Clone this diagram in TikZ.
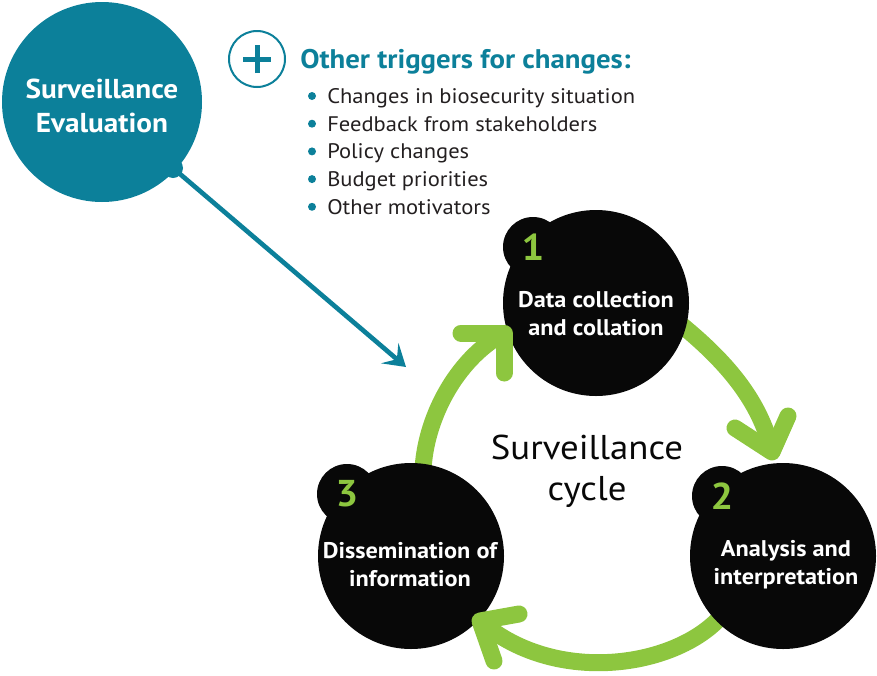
\documentclass[tikz,border=0pt]{standalone}
\usepackage{fontspec}
\setmainfont{PT Sans}[FakeStretch=1.07]
\usetikzlibrary{arrows.meta,calc}
\definecolor{svteal}{RGB}{12,128,154}
\definecolor{svgreen}{RGB}{141,198,63}
\definecolor{svblack}{RGB}{8,8,8}
\definecolor{svtext}{RGB}{35,31,32}
\pgfdeclarelayer{bg}
\pgfsetlayers{bg,main}
\begin{document}
\begin{tikzpicture}[x=0.75pt,y=-0.75pt,
  disc/.style={circle,fill=svblack,inner sep=0pt,outer sep=0pt,minimum size=#1},
  evaltext/.style={text=white,font=\bfseries\fontsize{20.5}{25.5}\selectfont,align=center,inner sep=0pt},
  celltext/.style={text=white,font=\bfseries\fontsize{17}{21}\selectfont,align=center,inner sep=0pt},
  numtext/.style={text=svgreen,font=\bfseries\fontsize{28}{30}\selectfont,inner sep=0pt},
  itemtext/.style={text=svtext,font=\fontsize{15.8}{18}\selectfont,anchor=base west,inner sep=0pt},
  tealarrow/.style={draw=svteal,line width=3.5pt,-{Stealth[length=16pt,width=20pt,inset=7pt]}},
  gshaft/.style={draw=svgreen,line width=12.75pt},
  ghead/.style={draw=svgreen,line width=12.75pt,line cap=round,line join=round}]
\useasboundingbox (0,0) rectangle (877,675);

% --- evaluation bubble and its pointer ---
\node[disc=150pt,fill=svteal] (eval) at (102,102) {};
\node[disc=15pt,fill=svteal] (evalknob) at (173,168) {};
\node[evaltext] (evallabel) at (102,106) {Surveillance\\Evaluation};
\coordinate (evaltip) at (406,367);
\draw[tealarrow] (evalknob.center) -- (evaltip);

% --- other triggers ---
\node[circle,draw=svteal,line width=1.5pt,minimum size=42pt,inner sep=0pt] (plus) at (257,59) {};
\draw[svteal,line width=3.75pt] ([xshift=-10.5pt]plus.center) -- ([xshift=10.5pt]plus.center);
\draw[svteal,line width=3.75pt] ([yshift=-10.5pt]plus.center) -- ([yshift=10.5pt]plus.center);
\node[anchor=base west,inner sep=0pt,text=svteal,font=\bfseries\fontsize{20.2}{22}\selectfont] (title) at (300,68) {Other triggers for changes:};
\foreach \t [count=\i] in {Changes in biosecurity situation,Feedback from stakeholders,Policy changes,Budget priorities,Other motivators}{
  \node[circle,fill=svteal,minimum size=6pt,inner sep=0pt] (dot\i) at (312,{96+27.7*(\i-1)}) {};
  \node[itemtext] (item\i) at (327,{103.5+27.7*(\i-1)}) {\t};
}

% --- surveillance cycle discs ---
\node[disc=139.5pt] (c1) at (596,303) {};
\node[disc=45pt] (b1) at (533,247) {};
\node[disc=139.5pt] (c2) at (783,556) {};
\node[disc=45pt] (b2) at (722,496) {};
\node[disc=139.5pt] (c3) at (411,556) {};
\node[disc=45pt] (b3) at (347,494) {};

% arrow tips and head arms
\coordinate (tip12) at (772,452);
\coordinate (arm12a) at (735,428);
\coordinate (arm12b) at (788,416);
\coordinate (tip23) at (480,621);
\coordinate (arm23a) at (519,614);
\coordinate (arm23b) at (494,661);
\coordinate (tip31) at (504,333);
\coordinate (arm31a) at (461,333);
\coordinate (arm31b) at (504,373);

% shafts run underneath the discs
\begin{pgfonlayer}{bg}
\draw[gshaft] ($(c1.center)!0.9!(c1.-13)$) .. controls (725,360) and (760,400) .. (tip12);
\draw[gshaft] ($(c2.center)!0.8!(c2.223)$) .. controls (690,665) and (560,690) .. (tip23);
\draw[gshaft] ($(c3.center)!0.92!(c3.82)$) .. controls (425,420) and (455,360) .. (tip31);
\end{pgfonlayer}

% heads sit on top
\draw[ghead] (arm12a) -- (tip12) -- (arm12b);
\draw[ghead] (arm23a) -- (tip23) -- (arm23b);
\draw[ghead] (arm31a) -- (tip31) -- (arm31b);

% --- labels ---
\node[numtext] (n1) at (b1) {1};
\node[numtext] (n2) at (b2) {2};
\node[numtext] (n3) at (b3) {3};
\node[celltext] (t1) at (596,314) {Data collection\\and collation};
\node[celltext] (t2) at (786,565) {Analysis and\\interpretation};
\node[celltext] (t3) at (410,565) {Dissemination of\\information};
\node[text=svblack,font=\fontsize{25.8}{30.75}\selectfont,align=center,inner sep=0pt] (cycle) at (587,471) {Surveillance\\cycle};
\end{tikzpicture}
\end{document}
